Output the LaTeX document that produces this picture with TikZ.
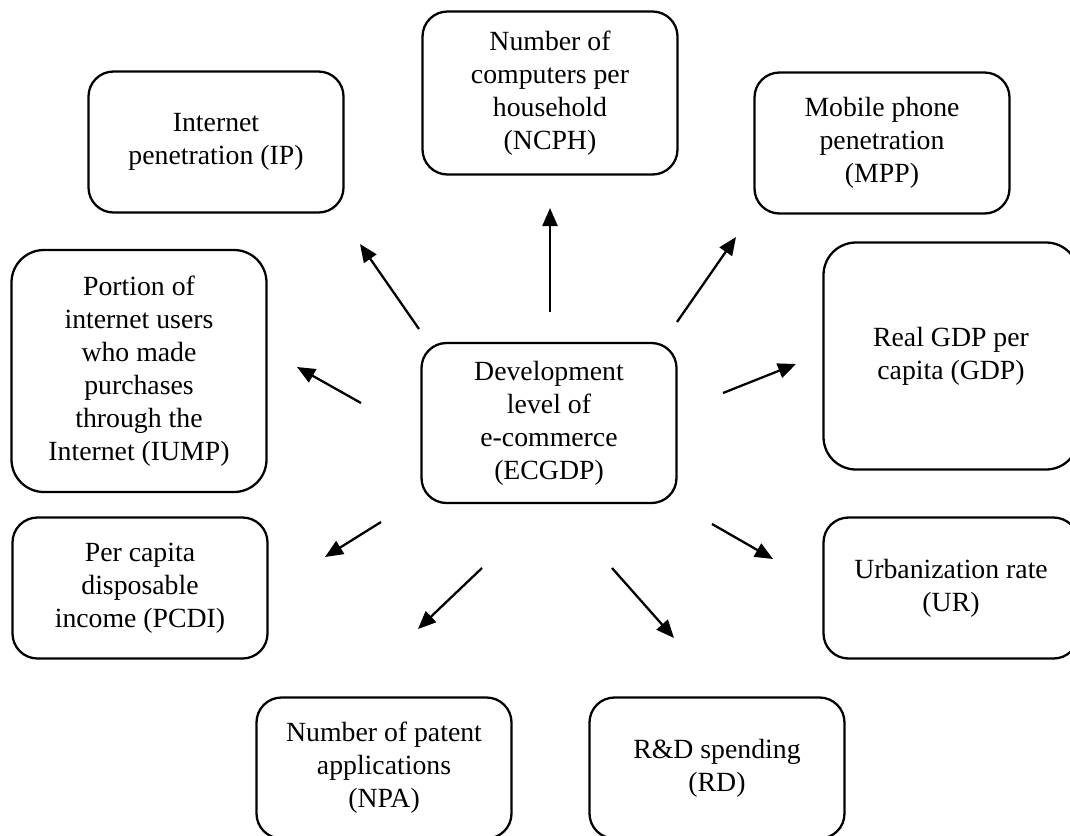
\documentclass[tikz,border=0pt]{standalone}
\usepackage{fontspec}
\setmainfont{Liberation Serif}
\usetikzlibrary{arrows.meta}

\tikzset{
  factor/.style={draw, rounded corners=5mm, line width=1.3pt, align=center,
    minimum width=5.1cm, minimum height=2.82cm,
    font=\fontsize{15.8}{18.8}\selectfont},
  effect/.style={-{Triangle[length=3.6mm,width=3mm]}, line width=1.3pt},
}

\begin{document}
\begin{tikzpicture}[x=0.2mm, y=-0.2mm]
 \useasboundingbox (0,0) rectangle (1070,835);
 %Nodes
	\node[factor, minimum height=3.2cm] (ecgdp) at (549,423) {Development\\level of\\e-commerce\\(ECGDP)};
	\node[factor, minimum height=3.26cm] (ncph) at (550,93) {Number of\\computers per\\household\\(NCPH)};
	\node[factor] (ip) at (216,142) {Internet\\penetration (IP)};
	\node[factor] (mpp) at (882,143) {Mobile phone\\penetration\\(MPP)};
	\node[factor, rounded corners=6.5mm, minimum height=4.84cm] (iump) at (139,371) {Portion of\\internet users\\who made\\purchases\\through the\\Internet (IUMP)};
	\node[factor, rounded corners=6.5mm, minimum height=4.54cm] (gdp) at (951,356) {Real GDP per\\capita (GDP)};
	\node[factor] (pcdi) at (140,588) {Per capita\\disposable\\income (PCDI)};
	\node[factor] (ur) at (951,588) {Urbanization rate\\(UR)};
	\node[factor] (npa) at (384,768) {Number of patent\\applications\\(NPA)};
	\node[factor] (rd) at (717,768) {R\&D spending\\(RD)};
	% Arrow ends
	\coordinate (ip-from) at (419,329);   \coordinate (ip-to) at (360,244);
	\coordinate (ncph-from) at (550,312); \coordinate (ncph-to) at (550,208);
	\coordinate (mpp-from) at (677,322);  \coordinate (mpp-to) at (736,237);
	\coordinate (iump-from) at (361,403); \coordinate (iump-to) at (297,367);
	\coordinate (gdp-from) at (723,393);  \coordinate (gdp-to) at (796,364);
	\coordinate (pcdi-from) at (381,522); \coordinate (pcdi-to) at (325,557);
	\coordinate (ur-from) at (712,524);   \coordinate (ur-to) at (773,559);
	\coordinate (npa-from) at (482,568);  \coordinate (npa-to) at (418,629);
	\coordinate (rd-from) at (612,568);   \coordinate (rd-to) at (674,638);
	% Arrows
	\draw[effect] (ip-from) -- (ip-to);
	\draw[effect] (ncph-from) -- (ncph-to);
	\draw[effect] (mpp-from) -- (mpp-to);
	\draw[effect] (iump-from) -- (iump-to);
	\draw[effect] (gdp-from) -- (gdp-to);
	\draw[effect] (pcdi-from) -- (pcdi-to);
	\draw[effect] (ur-from) -- (ur-to);
	\draw[effect] (npa-from) -- (npa-to);
	\draw[effect] (rd-from) -- (rd-to);
\end{tikzpicture}
\end{document}
